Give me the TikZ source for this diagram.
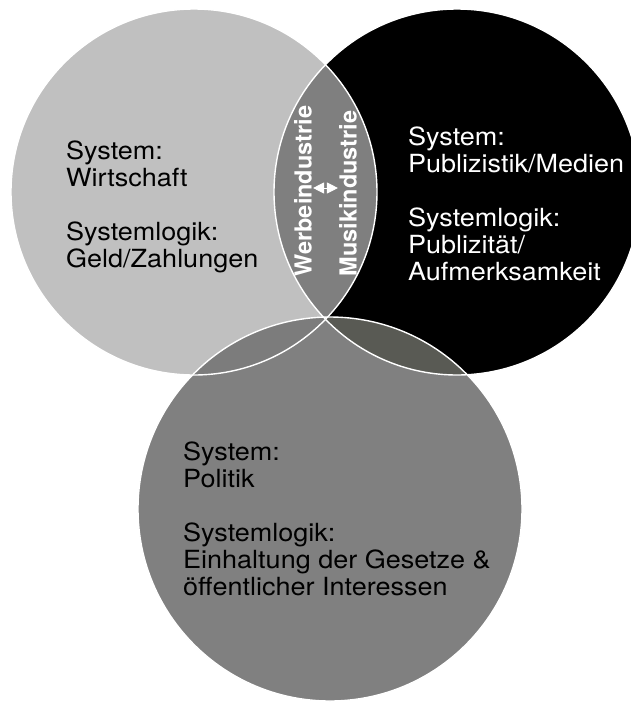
\documentclass[tikz,border=0pt]{standalone}
\usepackage{fontspec}
\setmainfont{TeX Gyre Heros}[FakeStretch=1.08]
\newfontfamily\vertfont{TeX Gyre Heros}
\usetikzlibrary{arrows.meta}
\definecolor{leftgray}{RGB}{192,192,192}
\definecolor{bottomgray}{RGB}{128,128,128}
\definecolor{lensLR}{RGB}{127,127,127}
\definecolor{lensLB}{RGB}{124,124,124}
\definecolor{lensRB}{RGB}{89,90,84}
\begin{document}
\begin{tikzpicture}[x=1pt,y=-1pt,
  blocktext/.style={align=left, anchor=base west, inner sep=0pt, font=\fontsize{25}{27}\selectfont},
  verttext/.style={rotate=90, inner sep=1pt, text=white, font=\vertfont\bfseries\fontsize{23.5}{25}\selectfont},
  outline/.style={draw=white, line width=1.4pt}]
\useasboundingbox (0,0) rectangle (631,702);
% circles
\fill[leftgray] (194,192) circle[radius=183];
\fill[black] (457,192) circle[radius=183];
\fill[bottomgray] (330,509) circle[radius=192];
% lenses
\begin{scope}
  \clip (194,192) circle[radius=183];
  \fill[lensLR] (457,192) circle[radius=183];
\end{scope}
\begin{scope}
  \clip (194,192) circle[radius=183];
  \fill[lensLB] (330,509) circle[radius=192];
\end{scope}
\begin{scope}
  \clip (457,192) circle[radius=183];
  \fill[lensRB] (330,509) circle[radius=192];
\end{scope}
% outlines
\draw[outline] (194,192) circle[radius=183];
\draw[outline] (457,192) circle[radius=183];
\draw[outline] (330,509) circle[radius=192];
% texts (anchor = baseline of the last line)
\node[blocktext] (wirt) at (66,267) {System:\\Wirtschaft\\[27pt]Systemlogik:\\Geld/Zahlungen};
\node[blocktext, text=white] (publ) at (408,280) {System:\\Publizistik/Medien\\[27pt]Systemlogik:\\Publizität/\\Aufmerksamkeit};
\node[blocktext] (poli) at (183,595) {System:\\Politik\\[27pt]Systemlogik:\\Einhaltung der Gesetze \&\\öffentlicher Interessen};
\node[verttext] (werbe) at (303,191) {Werbeindustrie};
\node[verttext] (musik) at (348,193.5) {Musikindustrie};
\coordinate (arrowy) at (0,188);
\draw[white, line width=1pt, {Triangle[length=11pt,width=11pt]}-{Triangle[length=11pt,width=11pt]}]
  (werbe.south |- arrowy) -- (musik.north |- arrowy);
\end{tikzpicture}
\end{document}
